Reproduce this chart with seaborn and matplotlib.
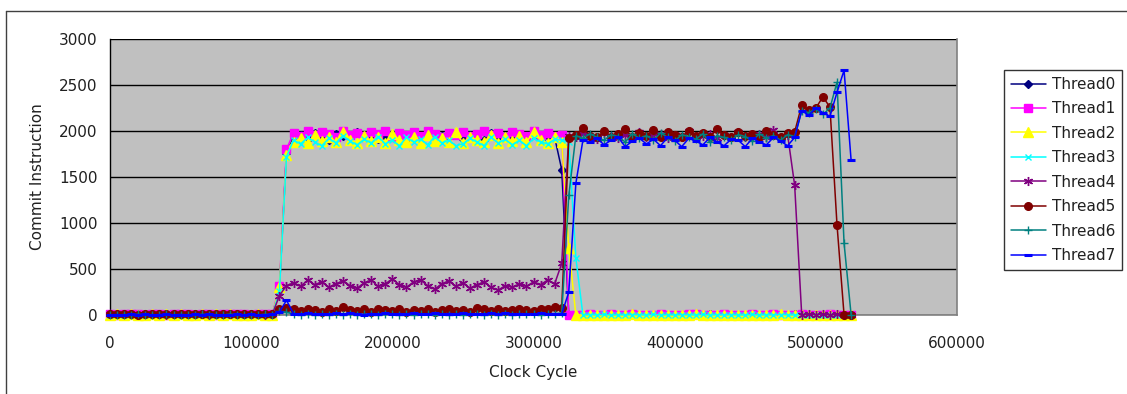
import numpy as np
import pandas as pd
import matplotlib
matplotlib.use("Agg")
import matplotlib.pyplot as plt
from matplotlib.lines import Line2D
import seaborn as sns

# clock cycles sampled every 5000
clock = list(range(0, 530000, 5000))

thread0 = [5, 8, 3, 10, 6, 4, 9, 7, 5, 12,
           6, 3, 8, 10, 5, 7, 4, 9, 6, 8,
           11, 5, 7, 6, 280, 1760, 1930, 1960, 1910, 1980,
           1940, 1900, 1970, 1950, 1920, 1990, 1930, 1960, 1910, 1950,
           1970, 1930, 1900, 1960, 1940, 1980, 1920, 1950, 1930, 1970,
           1910, 1960, 1940, 1900, 1980, 1930, 1950, 1920, 1970, 1940,
           1960, 1910, 1950, 1930, 1580, 0, 4, 0, 6, 2,
           0, 5, 3, 0, 7, 1, 0, 4, 6, 0,
           2, 5, 0, 3, 0, 6, 1, 0, 4, 2,
           0, 5, 2, 0, 4, 0, 3, 6, 0, 2,
           5, 0, 3, 1, 0, 4]
thread1 = [8, 5, 10, 6, 12, 4, 7, 9, 5, 11,
           6, 8, 4, 10, 7, 5, 9, 6, 12, 8,
           5, 7, 10, 6, 320, 1800, 1980, 1950, 2000, 1960,
           1990, 1970, 1940, 2000, 1960, 1980, 1950, 1990, 1970, 2000,
           1940, 1980, 1960, 1990, 1950, 2000, 1970, 1940, 1980, 1960,
           1990, 1950, 1970, 2000, 1960, 1980, 1940, 1990, 1970, 1950,
           2000, 1960, 1980, 1950, 1960, 0, 5, 0, 8, 3,
           0, 6, 2, 0, 7, 4, 0, 5, 9, 0,
           3, 0, 6, 8, 0, 4, 2, 7, 0, 5,
           0, 8, 3, 0, 6, 2, 0, 5, 7, 0,
           4, 0, 6, 3, 0, 5]
thread2 = [3, 6, 2, 8, 5, 1, 7, 4, 6, 3,
           9, 2, 5, 7, 3, 6, 1, 8, 4, 5,
           2, 7, 4, 3, 300, 1740, 1880, 1920, 1870, 1960,
           1890, 1940, 1880, 1990, 1900, 1870, 1950, 1890, 1930, 1870,
           1970, 1900, 1880, 1940, 1870, 1960, 1890, 1920, 1880, 1990,
           1870, 1940, 1900, 1880, 1960, 1870, 1930, 1890, 1950, 1880,
           1990, 1900, 1870, 1940, 1880, 730, 0, 3, 0, 5,
           2, 0, 4, 0, 6, 1, 0, 3, 5, 0,
           2, 4, 0, 6, 1, 0, 3, 0, 5, 2,
           0, 4, 1, 0, 3, 6, 0, 2, 4, 0,
           3, 0, 5, 1, 0, 2]
thread3 = [4, 7, 2, 9, 5, 3, 8, 6, 2, 7,
           5, 10, 3, 6, 8, 4, 7, 2, 9, 5,
           6, 3, 8, 4, 260, 1720, 1900, 1860, 1930, 1880,
           1840, 1920, 1870, 1950, 1890, 1850, 1910, 1870, 1940, 1860,
           1900, 1840, 1930, 1880, 1910, 1850, 1940, 1870, 1900, 1840,
           1860, 1920, 1880, 1840, 1930, 1870, 1910, 1850, 1900, 1840,
           1920, 1880, 1860, 1910, 1900, 1880, 620, 0, 4, 0,
           6, 0, 3, 0, 5, 2, 0, 7, 0, 4,
           0, 5, 2, 0, 6, 0, 3, 0, 4, 1,
           0, 6, 0, 3, 0, 5, 2, 0, 4, 0,
           3, 0, 5, 0, 2, 0]
thread4 = [10, 6, 12, 8, 5, 9, 11, 7, 4, 10,
           8, 12, 6, 9, 5, 11, 7, 10, 6, 8,
           12, 9, 5, 10, 210, 320, 350, 310, 380, 330,
           360, 300, 340, 370, 320, 290, 350, 380, 310, 340,
           390, 330, 300, 360, 380, 320, 280, 340, 370, 310,
           350, 290, 330, 360, 300, 270, 320, 300, 340, 310,
           360, 330, 380, 340, 560, 1950, 1930, 1970, 1940, 1910,
           1980, 1950, 1920, 1960, 1940, 1990, 1930, 1950, 1970, 1920,
           1960, 1940, 2000, 1930, 1950, 1970, 1920, 1960, 1940, 1990,
           1930, 1950, 1970, 1940, 2010, 1930, 1960, 1410, 0, 10,
           5, 12, 0, 8, 4, 0]
thread5 = [10, 15, 8, 12, 5, 14, 9, 11, 7, 13,
           6, 12, 10, 8, 15, 9, 7, 13, 11, 6,
           14, 9, 12, 8, 60, 80, 60, 40, 70, 50,
           30, 60, 45, 90, 55, 40, 70, 35, 60, 50,
           40, 65, 30, 55, 45, 70, 35, 50, 60, 40,
           55, 35, 80, 60, 45, 70, 40, 55, 65, 50,
           45, 70, 60, 90, 80, 1920, 1960, 2030, 1950, 1930,
           2000, 1940, 1970, 2020, 1930, 1980, 1950, 2010, 1940, 1990,
           1960, 1930, 2000, 1950, 1980, 1940, 2020, 1960, 1930, 1990,
           1950, 1970, 1940, 2000, 1960, 1930, 1980, 1990, 2280, 2230,
           2250, 2370, 2260, 980, 0, 0]
thread6 = [3, 0, 5, 2, 6, 1, 4, 0, 7, 2,
           5, 3, 0, 6, 2, 4, 1, 8, 3, 0,
           5, 2, 6, 0, 40, 30, 10, 5, 12, 3,
           8, 0, 10, 4, 15, 2, 6, 11, 0, 7,
           9, 3, 12, 0, 6, 14, 2, 8, 5, 10,
           0, 7, 11, 3, 9, 4, 13, 1, 6, 8,
           10, 2, 7, 15, 20, 1300, 1950, 1920, 1970, 1930,
           1900, 1960, 1940, 1880, 1970, 1920, 1950, 1900, 1980, 1930,
           1890, 1960, 1940, 1910, 1970, 1880, 1950, 1930, 1900, 1960,
           1940, 1890, 1970, 1920, 1950, 1900, 1960, 1940, 2220, 2200,
           2240, 2180, 2250, 2530, 780, 0]
thread7 = [2, 5, 0, 8, 3, 6, 1, 4, 7, 2,
           5, 0, 6, 3, 9, 2, 4, 0, 7, 3,
           6, 1, 4, 8, 30, 160, 15, 8, 20, 10,
           14, 6, 18, 9, 22, 12, 5, 16, 10, 20,
           8, 15, 11, 25, 7, 13, 18, 9, 16, 12,
           20, 10, 14, 6, 17, 11, 22, 8, 15, 12,
           9, 18, 13, 16, 10, 250, 1430, 1900, 1880, 1920,
           1850, 1900, 1930, 1830, 1890, 1920, 1860, 1910, 1840, 1930,
           1900, 1830, 1920, 1890, 1850, 1930, 1880, 1840, 1910, 1900,
           1830, 1920, 1880, 1850, 1930, 1890, 1840, 1930, 2220, 2170,
           2250, 2200, 2160, 2420, 2660, 1680]

threads = ["Thread0", "Thread1", "Thread2", "Thread3",
           "Thread4", "Thread5", "Thread6", "Thread7"]
series = [thread0, thread1, thread2, thread3,
          thread4, thread5, thread6, thread7]

colors = ["#000080", "#FF00FF", "#FFFF00", "#00FFFF",
          "#800080", "#800000", "#008080", "#0000FF"]
markers = ["D", "s", "^", "x", (6, 2, 0), "o", "+", "_"]
msizes = [4.5, 5.5, 6.5, 5, 6.5, 5.5, 6, 5.5]
mews = [1, 1, 1, 1, 1, 1, 1, 2.2]

rows = []
for name, vals in zip(threads, series):
    for c, v in zip(clock, vals):
        rows.append((name, c, v))
df = pd.DataFrame(rows, columns=["Thread", "Clock Cycle", "Commit Instruction"])

sns.set_style("white")
plt.rcParams["font.family"] = ["DejaVu Sans"]

fig = plt.figure(figsize=(11.27, 3.94), dpi=100)
ax = fig.add_axes([110 / 1127, 1 - 315 / 394, 847 / 1127, 276 / 394])
ax.set_facecolor("#C0C0C0")

for i, name in enumerate(threads):
    sub = df[df["Thread"] == name]
    sns.lineplot(data=sub, x="Clock Cycle", y="Commit Instruction", ax=ax,
                 color=colors[i], marker=markers[i], markersize=msizes[i],
                 markeredgecolor=colors[i], markeredgewidth=mews[i],
                 linewidth=1.1, estimator=None, errorbar=None, sort=False,
                 label=name, clip_on=False, zorder=3 + i)

ax.set_xlim(0, 600000)
ax.set_ylim(0, 3000)
ax.set_xticks(range(0, 600001, 100000))
ax.set_yticks(range(0, 3001, 500))
ax.set_xticklabels([str(t) for t in range(0, 600001, 100000)])
ax.yaxis.grid(True, color="black", linewidth=1)
ax.xaxis.grid(False)
ax.set_axisbelow(True)
ax.tick_params(axis="both", labelsize=11, length=3, direction="out",
               colors="#202020", pad=6)
ax.tick_params(axis="x", pad=12)
ax.set_xlabel("Clock Cycle", fontsize=11, color="#202020", labelpad=10)
ax.set_ylabel("Commit Instruction", fontsize=11, color="#202020", labelpad=10)

ax.spines["left"].set_color("black")
ax.spines["left"].set_linewidth(1)
for s in ["right", "bottom"]:
    ax.spines[s].set_color("#808080")
    ax.spines[s].set_linewidth(1.2)
ax.spines["top"].set_visible(False)

if ax.get_legend() is not None:
    ax.get_legend().remove()
handles, labels = ax.get_legend_handles_labels()
leg = fig.legend(handles, labels, loc="upper left",
                 bbox_to_anchor=(1004 / 1127, 1 - 70 / 394),
                 bbox_transform=fig.transFigure, frameon=True, fancybox=False,
                 edgecolor="black", fontsize=11, labelspacing=0.62,
                 handlelength=2.3, handletextpad=0.4, borderpad=0.45,
                 borderaxespad=0)
leg.get_frame().set_linewidth(1)
for t in leg.get_texts():
    t.set_color("#202020")

# outer chart-area border (cut off at right and bottom)
fig.add_artist(Line2D([6 / 1127, 6 / 1127], [0, 1 - 11 / 394],
                      transform=fig.transFigure, color="#404040", linewidth=1))
fig.add_artist(Line2D([6 / 1127, 1], [1 - 11 / 394, 1 - 11 / 394],
                      transform=fig.transFigure, color="#404040", linewidth=1))

fig.savefig("out.png", dpi=100)
